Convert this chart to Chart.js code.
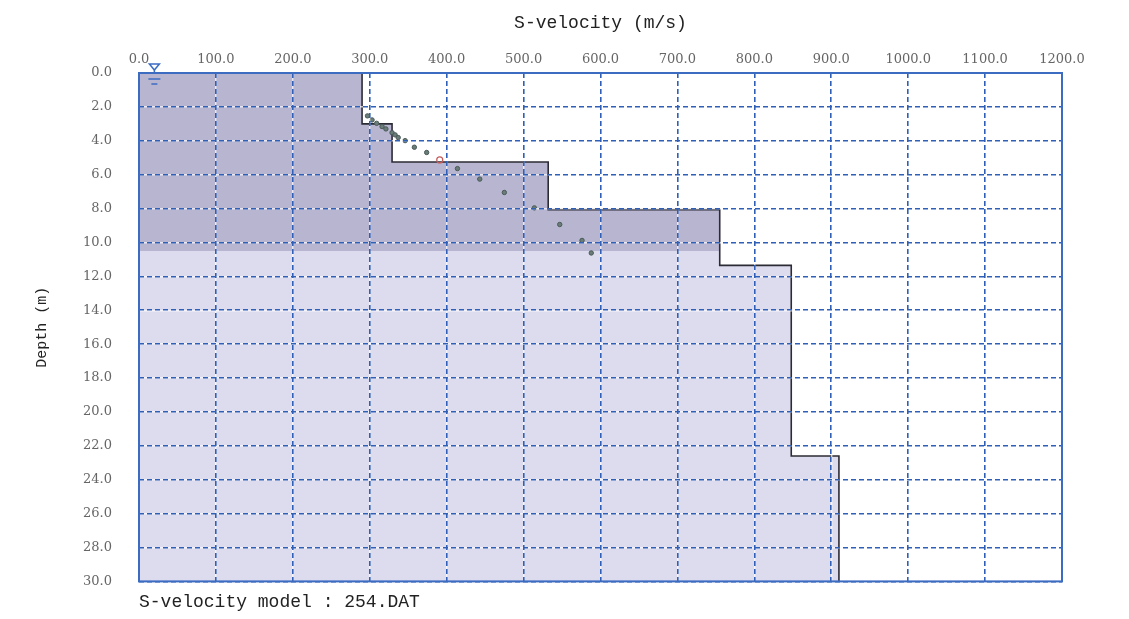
<!DOCTYPE html>
<html>
<head>
<meta charset="utf-8">
<script src="https://cdn.jsdelivr.net/npm/chart.js@4/dist/chart.umd.min.js"></script>
<style>
  html, body { margin: 0; padding: 0; background: #fff; }
  #wrap { width: 1129px; height: 619px; }
</style>
</head>
<body>
<div id="wrap"><canvas id="chart"></canvas></div>
<script>
// layer model: boundaries (m) and S-velocity of each layer (m/s)
const layerDepths = [0, 3.0, 5.25, 8.06, 11.35, 22.6, 30.0];
const layerVs = [290, 329, 532, 755, 848, 910];
const investigatedDepth = 10.5;

// observed points (velocity m/s, depth m)
const obsVs = [297, 303, 309, 316, 321, 329, 333, 337, 346, 358, 374, 414, 443, 475, 514, 547, 576, 588];
const obsDepths = [2.53, 2.77, 2.97, 3.16, 3.30, 3.52, 3.65, 3.81, 3.99, 4.38, 4.69, 5.64, 6.26, 7.05, 7.96, 8.94, 9.88, 10.62];
const redVs = [391];
const redDepths = [5.13];

// water level mark (velocity position, depth)
const waterV = 20;
const waterDepth = 0;

const xTicks = { min: 0, max: 1200, step: 100 };
const yTicks = { min: 0, max: 30, step: 2 };

function profilePoints(maxDepth) {
  const pts = [];
  for (let i = 0; i < layerVs.length; i++) {
    const top = layerDepths[i];
    if (top >= maxDepth) break;
    const bot = Math.min(layerDepths[i + 1], maxDepth);
    pts.push({ x: layerVs[i], y: top });
    pts.push({ x: layerVs[i], y: bot });
  }
  return pts;
}

function pairs(xs, ys) {
  return xs.map((v, i) => ({ x: v, y: ys[i] }));
}

const gridBlue = '#2f5fb6';
const frameBlue = '#3c6cc2';

const frame = {
  id: 'frame',
  afterDraw(chart) {
    const { ctx, chartArea: a, scales } = chart;
    ctx.save();
    ctx.strokeStyle = frameBlue;
    ctx.lineWidth = 2;
    ctx.strokeRect(a.left, a.top, a.right - a.left, a.bottom - a.top);

    // water level symbol
    const wx = scales.x.getPixelForValue(waterV);
    const wy = scales.y.getPixelForValue(waterDepth);
    ctx.lineWidth = 1.5;
    ctx.fillStyle = '#fff';
    ctx.beginPath();
    ctx.moveTo(wx - 5, wy - 9);
    ctx.lineTo(wx + 5, wy - 9);
    ctx.lineTo(wx, wy - 3);
    ctx.closePath();
    ctx.fill();
    ctx.stroke();
    ctx.beginPath();
    ctx.moveTo(wx, wy - 3);
    ctx.lineTo(wx, wy);
    ctx.moveTo(wx - 6, wy + 6);
    ctx.lineTo(wx + 6, wy + 6);
    ctx.moveTo(wx - 3, wy + 11);
    ctx.lineTo(wx + 3, wy + 11);
    ctx.stroke();
    ctx.restore();
  }
};

// white underlay so the dashed grid shows light gaps over the shading
function underlayAxis(pos, axis) {
  return {
    type: 'linear',
    position: pos,
    axis: axis,
    reverse: axis === 'y',
    min: axis === 'x' ? xTicks.min : yTicks.min,
    max: axis === 'x' ? xTicks.max : yTicks.max,
    afterFit(scale) { if (axis === 'x') scale.height = 0; else scale.width = 0; },
    ticks: { display: false, stepSize: axis === 'x' ? xTicks.step : yTicks.step },
    grid: { color: 'rgba(255,255,255,0.7)', lineWidth: 1.4, drawTicks: false, z: 1 },
    border: { display: false }
  };
}

new Chart(document.getElementById('chart'), {
  type: 'line',
  data: {
    datasets: [
      {
        data: profilePoints(30),
        borderWidth: 0,
        pointRadius: 0,
        backgroundColor: '#dddcef',
        fill: 'origin',
        order: 5
      },
      {
        data: profilePoints(investigatedDepth),
        borderWidth: 0,
        pointRadius: 0,
        backgroundColor: '#b8b5d1',
        fill: 'origin',
        order: 4
      },
      {
        data: profilePoints(30),
        borderColor: '#2b2b33',
        borderWidth: 1.6,
        pointRadius: 0,
        fill: false,
        order: 3
      },
      {
        data: pairs(obsVs, obsDepths),
        showLine: false,
        pointRadius: 2.2,
        pointBorderWidth: 1,
        pointBackgroundColor: '#6a7c78',
        pointBorderColor: '#4a5a58',
        order: 2
      },
      {
        data: pairs(redVs, redDepths),
        showLine: false,
        pointRadius: 3,
        pointBorderWidth: 1.2,
        pointBackgroundColor: 'rgba(0,0,0,0)',
        pointBorderColor: '#c25a5a',
        order: 1
      }
    ]
  },
  options: {
    indexAxis: 'y',
    responsive: true,
    maintainAspectRatio: false,
    animation: false,
    layout: { padding: { left: 0, right: 67, top: 0, bottom: 0 } },
    plugins: {
      legend: { display: false },
      tooltip: { enabled: false },
      subtitle: {
        display: true,
        position: 'bottom',
        align: 'start',
        fullSize: false,
        text: 'S-velocity model : 254.DAT',
        color: '#222',
        font: { family: 'Liberation Mono', size: 18, weight: 'normal' },
        padding: { top: 10, bottom: 6 }
      }
    },
    scales: {
      xw: underlayAxis('top', 'x'),
      yw: underlayAxis('left', 'y'),
      x: {
        type: 'linear',
        position: 'top',
        min: xTicks.min,
        max: xTicks.max,
        afterFit(scale) { scale.height = 73; },
        title: {
          display: true,
          text: 'S-velocity (m/s)',
          color: '#222',
          font: { family: 'Liberation Mono', size: 18 },
          padding: { top: 12, bottom: 0 }
        },
        ticks: {
          stepSize: xTicks.step,
          padding: 6,
          color: '#666',
          font: { family: 'DejaVu Serif', size: 13 },
          maxRotation: 0,
          autoSkip: false,
          callback: v => Number(v).toFixed(1)
        },
        grid: {
          color: gridBlue,
          lineWidth: 1.6,
          drawTicks: false,
          z: 2
        },
        border: { display: false, dash: [5, 3] }
      },
      y: {
        type: 'linear',
        position: 'left',
        reverse: true,
        min: yTicks.min,
        max: yTicks.max,
        afterFit(scale) { scale.width = 139; },
        title: {
          display: true,
          text: 'Depth (m)',
          color: '#222',
          font: { family: 'Liberation Mono', size: 15 },
          padding: { top: 33, bottom: 0 }
        },
        ticks: {
          stepSize: yTicks.step,
          padding: 27,
          color: '#666',
          font: { family: 'DejaVu Serif', size: 13 },
          autoSkip: false,
          callback: v => Number(v).toFixed(1)
        },
        grid: {
          color: gridBlue,
          lineWidth: 1.6,
          drawTicks: false,
          z: 2
        },
        border: { display: false, dash: [5, 3] }
      }
    }
  },
  plugins: [frame]
});
</script>
</body>
</html>
